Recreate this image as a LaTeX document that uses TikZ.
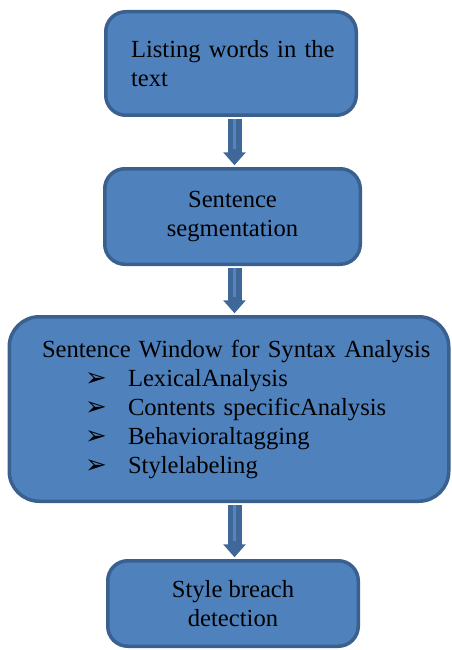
\documentclass[tikz,border=0pt]{standalone}
\usepackage{fontspec}
\setmainfont{Liberation Serif}
\newfontfamily\dingfont{DejaVu Sans}
\usetikzlibrary{arrows.meta}
\definecolor{boxfill}{HTML}{4F81BD}
\definecolor{boxline}{HTML}{3A6090}
\definecolor{flowdark}{HTML}{3F6898}
\definecolor{flowlight}{HTML}{5685BE}
\newcommand{\stepitem}[1]{\hspace*{61pt}\makebox[43pt][l]{\dingfont\fontsize{26}{26}\selectfont ➢}\mbox{#1}}

\begin{document}
\begin{tikzpicture}[x=1pt, y=1pt, line join=round, font=\fontsize{24.6}{29}\selectfont,
	stepbox/.style={draw=boxline, fill=boxfill, line width=3.5pt, rounded corners=20pt, inner sep=0pt, align=center},
	flow/.style={draw=flowdark, line width=14pt, shorten <=1.75pt, shorten >=1.75pt, -{Triangle[width=22pt,length=13pt]}},
	flowcore/.style={draw=flowlight, line width=3pt, shorten <=1.75pt, shorten >=18pt}]
	\useasboundingbox (0,0) rectangle (452,-650);
	\path
	(234.5,0) coordinate (spine)
	(231,-63.5) node[stepbox, minimum width=250.5pt, minimum height=103.5pt, text width=200pt, align=left] (list) {\mbox{Listing words in the}\\ text\\[-8pt]}
	(232.5,-216.5) node[stepbox, minimum width=255.5pt, minimum height=95.5pt] (seg) {Sentence\\ segmentation}
	(229,-409) node[stepbox, rounded corners=30pt, minimum width=439.5pt, minimum height=184.5pt, text width=410pt, align=left] (window) {\hspace*{18pt}\mbox{Sentence Window for Syntax Analysis}\\
		\stepitem{LexicalAnalysis}\\
		\stepitem{Contents specificAnalysis}\\
		\stepitem{Behavioraltagging}\\
		\stepitem{Stylelabeling}}
	(233,-603.5) node[stepbox, minimum width=250.5pt, minimum height=85.5pt] (breach) {Style breach\\ detection}
	;
	\foreach \a/\b in {list/seg, seg/window, window/breach}{
		\draw[flow] (\a.south -| spine) -- (\b.north -| spine);
		\draw[flowcore] (\a.south -| spine) -- (\b.north -| spine);
	}
\end{tikzpicture}
\end{document}
